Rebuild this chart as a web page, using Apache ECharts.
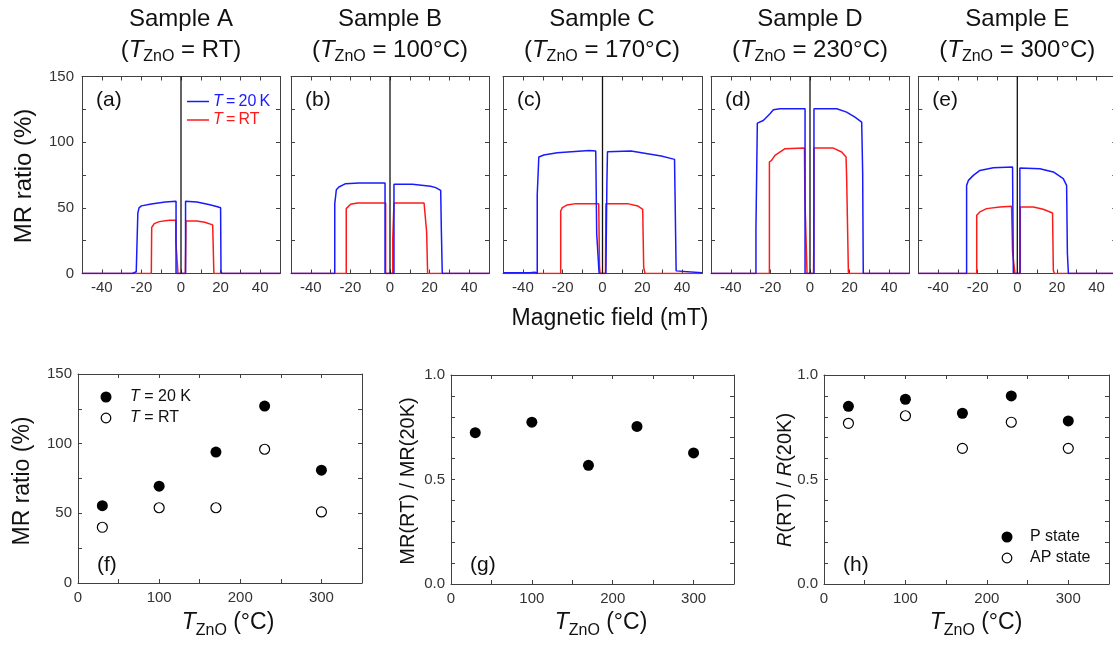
<!DOCTYPE html>
<html><head><meta charset="utf-8">
<script src="https://cdn.jsdelivr.net/npm/echarts@6/dist/echarts.min.js"></script>
<style>html,body{margin:0;padding:0;background:#fff}#c{width:1113px;height:646px}</style>
</head><body><div id="c"></div>
<script>
// ---------- data ----------
const sampleNames = ['Sample A', 'Sample B', 'Sample C', 'Sample D', 'Sample E'];
const sampleTemps = ['RT', '100\u00b0C', '170\u00b0C', '230\u00b0C', '300\u00b0C'];
const topLetters = ['(a)', '(b)', '(c)', '(d)', '(e)'];
const botLetters = ['(f)', '(g)', '(h)'];

// MR loops (field mT, MR %)
const loopA20K = [[-50,0],[-24.6,0],[-24.6,1.3],[-22.6,1.3],[-22.3,0],[-21.8,0],[-21.8,46],[-21.2,50],[-20,51.5],[-15,53],[-8,54.5],[-2.5,55],[-2.5,0],[2.3,0],[2.3,55],[8,54.5],[14,52.5],[18,51],[20,50],[20.2,2],[20.6,0],[50,0]];
const loopART  = [[-50,0],[-15,0],[-14.8,35],[-13.5,38],[-11,39.5],[-6,40.5],[-2.6,40.5],[-2.6,24],[-1.5,0],[2.2,0],[2.4,23],[2.5,40],[8,40],[12,39],[16,37],[16.3,36],[16.6,0],[50,0]];
const loopB20K = [[-50,0],[-27.9,0],[-27.9,53],[-27.1,63.8],[-25.8,65.9],[-22.4,68.4],[-15.7,68.9],[-2.5,68.9],[-2.5,0],[2,0],[2,67.9],[11.3,67.9],[12.1,66.9],[20.5,66.4],[23.1,65.4],[25.6,63.3],[25.9,35.5],[26.4,35],[26.4,0],[50,0]];
const loopBRT  = [[-50,0],[-22.1,0],[-22.1,49.4],[-21.5,50.7],[-19.9,52.7],[-16.5,53.7],[-2.2,53.7],[-2.2,0],[1.4,0],[1.4,27],[2,53.7],[17.2,53.7],[18,52.2],[18.5,31.7],[19,0],[50,0]];
const loopC20K = [[-50,0.5],[-36.5,0.5],[-36,1],[-34,1],[-33.2,0],[-32.8,0],[-32.8,60],[-32,88.7],[-29.5,90.2],[-22.7,92],[-6.7,93.7],[-3.4,93.2],[-2.9,30],[-1.7,0],[1.7,0],[2.2,68],[2.5,92.7],[14.3,93.2],[29.5,89.4],[36.2,86.9],[37,2],[37.9,0.8],[50,0.6]];
const loopCRT  = [[-50,0],[-21,0],[-21,47.6],[-20.2,50.2],[-17.7,52.2],[-13.5,53.2],[-1.9,53.2],[-1.5,5],[-1.2,0],[1.5,0],[1.7,53.2],[12.6,53.2],[17.7,51.4],[20.2,48.9],[20.7,4.6],[21.4,0],[50,0]];
const loopD20K = [[-50,0],[-27.3,0],[-27.3,34],[-26.6,35.5],[-26.6,114.5],[-23.6,116.5],[-20.2,121.6],[-18.5,124.7],[-15.2,125.4],[-2.5,125.4],[-2.5,0],[2,0],[2,125.4],[13.5,125.4],[18.5,122.9],[22.7,119],[26.1,115.3],[26.6,77],[26.9,0],[50,0]];
const loopDRT  = [[-50,0],[-20.5,0],[-20.5,84.9],[-19.4,86.1],[-17.7,90],[-12.6,95],[-2.8,95.5],[-2.6,59],[-1.5,0],[1.8,0],[1.9,21.5],[2,95.5],[11.8,95.5],[16,92.5],[18.2,88.7],[18.5,73.5],[19.4,0],[50,0]];
const loopE20K = [[-50,0],[-25.6,0],[-25.6,67.1],[-24.7,70.9],[-22.2,74.7],[-18.9,78.5],[-12.1,80.6],[-2.4,81.1],[-2.0,0],[1.3,0],[1.3,80.3],[11.4,79.8],[18.2,77.3],[23.2,72.2],[24.9,67.1],[25.3,15.2],[25.8,0],[50,0]];
const loopERT  = [[-50,0],[-20.5,0],[-20.5,44.3],[-18.9,46.9],[-15.5,49.4],[-8.8,50.7],[-2.9,51.2],[-2.4,16.5],[-1.2,0],[1.5,0],[1.5,50.7],[8.1,50.7],[13.1,48.9],[17.8,46.1],[18.2,2.5],[18.7,0],[50,0]];
const loops20K = [loopA20K, loopB20K, loopC20K, loopD20K, loopE20K];
const loopsRT  = [loopART, loopBRT, loopCRT, loopDRT, loopERT];
const zeroField = [[0, 0], [0, 150]];

// summary (T_ZnO in °C)
const tZnO     = [30, 100, 170, 230, 300];
const mr20K    = [55.5, 69.5, 94, 127, 81];
const mrRT     = [40, 54, 54, 96, 51];
const mrRatio  = [0.724, 0.774, 0.568, 0.754, 0.627];
const rRatioP  = [0.850, 0.884, 0.817, 0.900, 0.780];
const rRatioAP = [0.769, 0.805, 0.649, 0.774, 0.649];

// tick labels
const fieldLabels = [-40, -20, 0, 20, 40];
const mrLabels = [0, 50, 100, 150];
const tempLabels = [0, 100, 200, 300];
const ratioLabels = ['0.0', '0.5', '1.0'];

// ---------- layout ----------
const FONT = '"Liberation Sans", Arial, Helvetica, sans-serif';
const AX = '#404040';
const BLUE = '#1a1aff', RED = '#ff1a1a';
const topGrids = [
  {left: 82, top: 76.5, width: 198, height: 197},
  {left: 291, top: 76.5, width: 198, height: 197},
  {left: 503, top: 76.5, width: 199, height: 197},
  {left: 711, top: 76.5, width: 198, height: 197},
  {left: 918.3, top: 76.5, width: 198, height: 197}
];
const botGrids = [
  {left: 78, top: 374, width: 284, height: 209},
  {left: 451, top: 375, width: 283, height: 209},
  {left: 824, top: 375, width: 285, height: 209}
];
const grids = topGrids.concat(botGrids).map(g => Object.assign({show: false, containLabel: false, outerBoundsMode: 'none'}, g));

const pair = arr => tZnO.map((t, i) => [t, arr[i]]);
const fmtInt = list => v => (list.indexOf(Math.round(v)) >= 0 && Math.abs(v - Math.round(v)) < 1e-6) ? String(Math.round(v)) : '';
const fmtRatio = v => { const s = v.toFixed(1); return ratioLabels.indexOf(s) >= 0 && Math.abs(v * 2 - Math.round(v * 2)) < 1e-6 ? s : ''; };

const xAxes = [], yAxes = [];
function axisCommon(gi, min, max, interval, position) {
  return {
    gridIndex: gi, type: 'value', min, max, interval, position,
    axisLine: {show: true, onZero: false, lineStyle: {color: AX, width: 1}},
    axisTick: {show: true, inside: true, length: 4, lineStyle: {color: AX, width: 1}},
    splitLine: {show: false}
  };
}
function addAxes(gi, xr, yr, showX, showY, fx, fy, xMargin, yMargin) {
  const xb = axisCommon(gi, xr[0], xr[1], xr[2], 'bottom');
  xb.axisLabel = {show: showX, margin: xMargin, fontSize: 15, fontFamily: FONT, color: '#333', formatter: fx};
  const xt = axisCommon(gi, xr[0], xr[1], xr[2], 'top'); xt.axisLabel = {show: false};
  const yl = axisCommon(gi, yr[0], yr[1], yr[2], 'left');
  yl.axisLabel = {show: showY, margin: yMargin, fontSize: 15, fontFamily: FONT, color: '#333', formatter: fy};
  const yrr = axisCommon(gi, yr[0], yr[1], yr[2], 'right'); yrr.axisLabel = {show: false};
  xAxes.push(xb, xt); yAxes.push(yl, yrr);
}
for (let i = 0; i < 5; i++) addAxes(i, [-50, 50, 10], [0, 150, 25], true, i === 0, fmtInt(fieldLabels), fmtInt(mrLabels), 7, 8);
addAxes(5, [0, 350, 50], [0, 150, 25], true, true, fmtInt(tempLabels), fmtInt(mrLabels), 7, 6);
addAxes(6, [0, 350, 50], [0, 1, 0.1], true, true, fmtInt(tempLabels), fmtRatio, 7, 6);
addAxes(7, [0, 350, 50], [0, 1, 0.1], true, true, fmtInt(tempLabels), fmtRatio, 7, 6);

const series = [];
for (let i = 0; i < 5; i++) {
  const base = {type: 'line', xAxisIndex: 2 * i, yAxisIndex: 2 * i, showSymbol: false, symbol: 'none', clip: true, silent: true, animation: false};
  series.push(Object.assign({}, base, {name: 'RT', data: loopsRT[i], lineStyle: {color: RED, width: 1.5}, itemStyle: {color: RED}}));
  series.push(Object.assign({}, base, {name: '20K', data: loops20K[i], lineStyle: {color: BLUE, width: 1.5}, itemStyle: {color: BLUE}}));
  series.push(Object.assign({}, base, {name: 'zero', data: zeroField, lineStyle: {color: '#111', width: 1.3}, itemStyle: {color: '#111'}}));
}
const filled = {symbolSize: 11, itemStyle: {color: '#000', opacity: 1}};
const open = {symbolSize: 10, itemStyle: {color: '#fff', borderColor: '#000', borderWidth: 1.2, opacity: 1}};
function sc(gi, data, st) { return Object.assign({type: 'scatter', xAxisIndex: 2 * gi, yAxisIndex: 2 * gi, data, animation: false, silent: true}, st); }
series.push(sc(5, pair(mrRT), open), sc(5, pair(mr20K), filled));
series.push(sc(6, pair(mrRatio), filled));
series.push(sc(7, pair(rRatioAP), open), sc(7, pair(rRatioP), filled));

// ---------- texts ----------
const graphic = [];
function txt(x, y, text, size, extra) {
  return {type: 'text', x, y, silent: true,
    style: Object.assign({text, fontSize: size, fontFamily: FONT, fill: '#111', align: 'center', verticalAlign: 'middle'}, extra || {})};
}
function richT(sizeMain, sizeSub, lhMain, lhSub, fill) {
  return {
    p: {fontSize: sizeMain, fontFamily: FONT, lineHeight: lhMain, verticalAlign: 'middle', fill, color: fill},
    i: {fontSize: sizeMain, fontFamily: FONT, fontStyle: 'italic', lineHeight: lhMain, verticalAlign: 'middle', fill, color: fill},
    s: {fontSize: sizeSub, fontFamily: FONT, lineHeight: lhSub, verticalAlign: 'bottom', fill, color: fill}
  };
}
topGrids.forEach((g, i) => {
  const cx = g.left + 99;
  graphic.push(txt(cx, 19, sampleNames[i], 24));
  graphic.push(txt(cx, 50, '{p|(}{i|T}{s|ZnO}{p| = ' + sampleTemps[i] + ')}', 24, {rich: richT(24, 16, 30, 16, '#111')}));
  graphic.push(txt(g.left + 14, 100, topLetters[i], 21, {align: 'left'}));
});
graphic.push(txt(610, 319, 'Magnetic field (mT)', 23));
graphic.push(Object.assign(txt(24, 176, 'MR ratio (%)', 24), {rotation: Math.PI / 2}));
// legend (a)
graphic.push({type: 'line', silent: true, shape: {x1: 187, y1: 101.5, x2: 209, y2: 101.5}, style: {stroke: BLUE, lineWidth: 1.5}});
graphic.push({type: 'line', silent: true, shape: {x1: 187, y1: 120, x2: 209, y2: 120}, style: {stroke: RED, lineWidth: 1.5}});
graphic.push(txt(213, 101.5, '{i|T}{p|\u2009=\u200920\u2009K}', 16, {align: 'left', fill: BLUE, rich: richT(16, 16, 20, 20, BLUE)}));
graphic.push(txt(213, 120, '{i|T}{p|\u2009=\u2009RT}', 16, {align: 'left', fill: RED, rich: richT(16, 16, 20, 20, RED)}));

// bottom
const xNameX = [228, 601, 976];
xNameX.forEach(x => graphic.push(txt(x, 623, '{i|T}{s|ZnO}{p| (\u00b0C)}', 23, {rich: richT(23, 16, 32, 14, '#111')})));
graphic.push(Object.assign(txt(23, 481, 'MR ratio (%)', 23), {rotation: Math.PI / 2}));
graphic.push(Object.assign(txt(408, 481, 'MR(RT) / MR(20K)', 20), {rotation: Math.PI / 2}));
graphic.push(Object.assign(txt(785, 480, '{i|R}{p|(RT) / }{i|R}{p|(20K)}', 20, {rich: richT(20, 20, 24, 24, '#111')}), {rotation: Math.PI / 2}));
botGrids.forEach((g, i) => graphic.push(txt(g.left + 19, 565, botLetters[i], 21, {align: 'left'})));
// legend (f)
graphic.push({type: 'circle', silent: true, shape: {cx: 106, cy: 397, r: 5.5}, style: {fill: '#000'}});
graphic.push({type: 'circle', silent: true, shape: {cx: 106, cy: 418, r: 4.8}, style: {fill: '#fff', stroke: '#000', lineWidth: 1.2}});
graphic.push(txt(130, 397, '{i|T}{p| = 20 K}', 16, {align: 'left', rich: richT(16, 16, 20, 20, '#111')}));
graphic.push(txt(130, 418, '{i|T}{p| = RT}', 16, {align: 'left', rich: richT(16, 16, 20, 20, '#111')}));
// legend (h)
graphic.push({type: 'circle', silent: true, shape: {cx: 1007, cy: 537, r: 5.5}, style: {fill: '#000'}});
graphic.push({type: 'circle', silent: true, shape: {cx: 1007, cy: 558, r: 4.8}, style: {fill: '#fff', stroke: '#000', lineWidth: 1.2}});
graphic.push(txt(1030, 537, 'P state', 16, {align: 'left'}));
graphic.push(txt(1030, 558, 'AP state', 16, {align: 'left'}));

const chart = echarts.init(document.getElementById('c'), null, {renderer: 'canvas'});
chart.setOption({
  backgroundColor: '#fff',
  animation: false,
  grid: grids,
  xAxis: xAxes,
  yAxis: yAxes,
  series,
  graphic
});
</script></body></html>
